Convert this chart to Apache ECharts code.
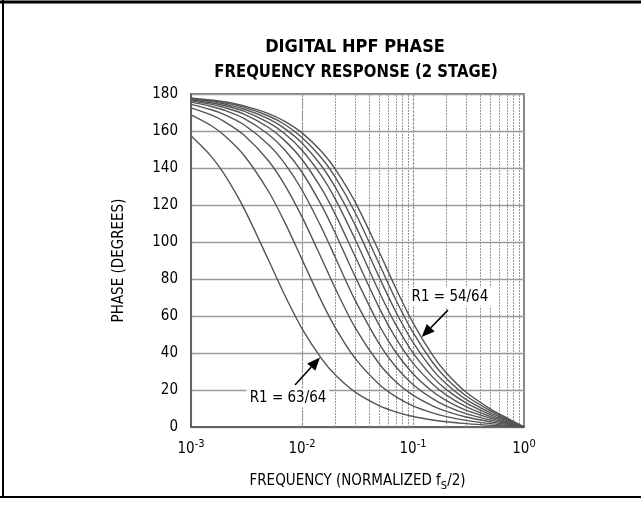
<!DOCTYPE html>
<html>
<head>
<meta charset="utf-8">
<script src="https://cdn.jsdelivr.net/npm/echarts@6/dist/echarts.min.js"></script>
<style>
html,body{margin:0;padding:0;background:#fff;}
#c{width:641px;height:518px;}
</style>
</head>
<body>
<div id="c"></div>
<script>
// Normalized frequency (fs/2)
const freqs = [0.001,0.0015,0.002,0.003,0.005,0.007,0.01,0.015,0.02,0.03,0.05,0.07,0.1,0.15,0.2,0.3,0.5,0.7,1];
// Phase (degrees) for R1 = 54/64 ... 63/64
const phase54 = [177.9,176.8,175.8,173.6,169.4,165.2,159.0,148.9,139.3,121.8,94.2,75.0,56.3,38.9,29.2,18.9,9.7,4.9,0];
const phase55 = [177.6,176.4,175.2,172.9,168.1,163.5,156.5,145.4,134.9,116.1,87.7,68.8,51.1,35.0,26.2,16.9,8.7,4.4,0];
const phase56 = [177.3,176.0,174.6,171.9,166.6,161.3,153.5,141.1,129.5,109.4,80.5,62.3,45.7,31.0,23.2,14.9,7.6,3.9,0];
const phase57 = [176.9,175.3,173.8,170.7,164.5,158.5,149.6,135.7,123.0,101.6,72.6,55.3,40.1,27.1,20.2,13.0,6.6,3.4,0];
const phase58 = [176.3,174.5,172.7,169.1,161.9,154.8,144.6,128.8,114.8,92.4,64.0,48.0,34.5,23.2,17.2,11.0,5.6,2.9,0];
const phase59 = [175.6,173.4,171.2,166.8,158.1,149.7,137.7,119.8,104.6,81.5,54.6,40.4,28.8,19.2,14.3,9.1,4.7,2.4,0];
const phase60 = [174.4,171.6,168.9,163.4,152.6,142.4,128.1,107.7,91.5,68.7,44.6,32.6,23.0,15.3,11.3,7.2,3.7,1.9,0];
const phase61 = [172.5,168.8,165.1,157.8,143.8,130.8,113.6,91.1,74.7,53.9,33.9,24.5,17.2,11.4,8.4,5.4,2.8,1.4,0];
const phase62 = [168.7,163.1,157.6,146.9,127.3,110.6,90.6,67.9,53.6,37.2,22.8,16.4,11.4,7.6,5.6,3.6,1.8,0.9,0];
const phase63 = [157.4,146.7,136.5,118.2,90.1,71.2,53.2,37.0,28.1,19.0,11.4,8.2,5.7,3.8,2.8,1.8,0.9,0.5,0];
const seriesNames = ['54/64','55/64','56/64','57/64','58/64','59/64','60/64','61/64','62/64','63/64'];
const seriesValues = [phase54,phase55,phase56,phase57,phase58,phase59,phase60,phase61,phase62,phase63];
// Minor (2..9 per decade) grid positions
const minorGrid = [0.002,0.003,0.004,0.005,0.006,0.007,0.008,0.009,
                   0.02,0.03,0.04,0.05,0.06,0.07,0.08,0.09,
                   0.2,0.3,0.4,0.5,0.6,0.7,0.8,0.9];
const yTicks = [0,20,40,60,80,100,120,140,160,180];
const titleLines = ['DIGITAL HPF PHASE', 'FREQUENCY RESPONSE (2 STAGE)'];
const xName = 'FREQUENCY (NORMALIZED f{sub|S}/2)';
const yName = 'PHASE (DEGREES)';
// annotations: label position, arrow tail, arrow head in data coordinates
const annotations = [
  {text:'R1 = 54/64', label:[0.215,70.3], tail:[0.2065,63.2], head:[0.1197,48.6]},
  {text:'R1 = 63/64', label:[0.00748,15.7], tail:[0.00865,22.7], head:[0.01452,37.6]}
];

const FONT = "'Liberation Sans Narrow','Arial Narrow','DejaVu Sans Condensed','Liberation Sans',sans-serif";
const chart = echarts.init(document.getElementById('c'), null, {renderer:'canvas'});

const series = seriesValues.map((vals, k) => ({
  name: seriesNames[k],
  type: 'line',
  data: freqs.map((f, i) => [f, vals[i]]),
  smooth: 0.3,
  showSymbol: false,
  lineStyle: {color:'#555', width:1.4},
  z: 5,
  silent: true
}));
series[0].markLine = {
  silent: true,
  symbol: 'none',
  label: {show:false},
  lineStyle: {color:'#999', type:[2,1], width:1},
  data: minorGrid.map(v => ({xAxis: v})),
  z: 1
};

chart.setOption({
  animation: false,
  backgroundColor: '#fff',
  grid: {left: 191, right: 117, top: 94, bottom: 91, show: true, borderColor: '#555', borderWidth: 1.5, backgroundColor: 'transparent'},
  xAxis: {
    type: 'log',
    logBase: 10,
    min: 0.001,
    max: 1,
    name: xName,
    nameLocation: 'middle',
    nameGap: 44,
    nameTextStyle: {fontFamily: FONT, fontSize: 15, color: '#000', rich: {sub: {fontFamily: FONT, fontSize: 11, padding:[10,0,0,0], color:'#000'}}},
    axisLine: {show: true, lineStyle: {color: '#555', width: 1.5}},
    axisTick: {show: false},
    splitLine: {show: true, lineStyle: {color: '#999', type: [3,1], width: 1.2}},
    axisLabel: {
      margin: 12,
      formatter: v => '{b|10}{s|' + Math.round(Math.log10(v)) + '}',
      rich: {
        b: {fontFamily: FONT, fontSize: 15, color: '#000'},
        s: {fontFamily: FONT, fontSize: 11, color: '#000', padding: [0,0,9,0]}
      }
    }
  },
  yAxis: {
    type: 'value',
    min: 0,
    max: 180,
    interval: 20,
    name: yName,
    nameLocation: 'middle',
    nameGap: 64,
    nameTextStyle: {fontFamily: FONT, fontSize: 15, color: '#000'},
    axisLine: {show: true, lineStyle: {color: '#555', width: 1.5}},
    axisTick: {show: false},
    splitLine: {show: true, lineStyle: {color: '#9a9a9a', width: 1.3}},
    axisLabel: {
      margin: 13,
      fontFamily: FONT, fontSize: 15, color: '#000',
      formatter: v => yTicks.indexOf(v) >= 0 ? String(v) : ''
    }
  },
  series: series
});

function px(p){ return chart.convertToPixel({xAxisIndex:0, yAxisIndex:0}, p); }
const g = [];
// title (two lines, heavy condensed look)
g.push({type:'text', x:355, y:47, scaleX:1.0, z:60,
  style:{text:titleLines[0], fontFamily:FONT, fontWeight:'bold', fontSize:18, fill:'#000', align:'center', verticalAlign:'middle'}});
g.push({type:'text', x:356, y:72, scaleX:0.92, z:60,
  style:{text:titleLines[1], fontFamily:FONT, fontWeight:'bold', fontSize:18, fill:'#000', align:'center', verticalAlign:'middle'}});
// outer frame
g.push({type:'line', shape:{x1:0, y1:2, x2:641, y2:2}, style:{stroke:'#000', lineWidth:3}, z:100});
g.push({type:'line', shape:{x1:0, y1:497, x2:641, y2:497}, style:{stroke:'#000', lineWidth:2}, z:100});
g.push({type:'line', shape:{x1:3, y1:0, x2:3, y2:498}, style:{stroke:'#000', lineWidth:2}, z:100});

annotations.forEach(a => {
  const L = px(a.label), T = px(a.tail), H = px(a.head);
  g.push({type:'text', x:L[0], y:L[1], z:50,
    style:{text:a.text, fontFamily:FONT, fontSize:15, fill:'#000', align:'center', verticalAlign:'middle',
           backgroundColor:'#fff', padding:[2,3,2,3]}});
  const dx = H[0]-T[0], dy = H[1]-T[1], len = Math.hypot(dx,dy);
  const ux = dx/len, uy = dy/len, hl = 13, hw = 5.5;
  const bx = H[0]-ux*hl, by = H[1]-uy*hl;
  g.push({type:'line', z:50, shape:{x1:T[0], y1:T[1], x2:bx, y2:by}, style:{stroke:'#000', lineWidth:1.6}});
  g.push({type:'polygon', z:50, shape:{points:[[H[0],H[1]],[bx-uy*hw, by+ux*hw],[bx+uy*hw, by-ux*hw]]}, style:{fill:'#000'}});
});
chart.setOption({graphic: g});
</script>
</body>
</html>
